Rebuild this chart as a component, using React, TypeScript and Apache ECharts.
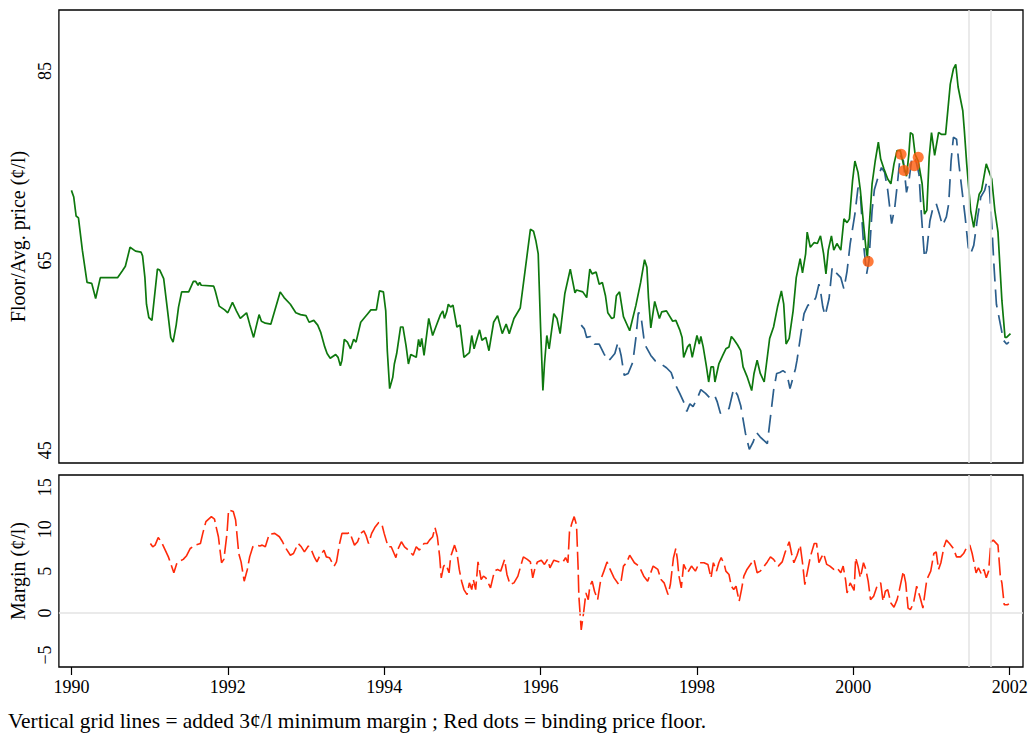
import React, { useEffect, useRef } from "react";
import * as echarts from "echarts";

// Floor price (c/l), [year, value]
const floorPrice: [number, number][] = [
  [1990.0, 72.4], [1990.03, 71.7], [1990.06, 69.7], [1990.09, 69.5], [1990.14, 66.1], [1990.2, 62.7],
  [1990.26, 62.6], [1990.31, 61.0], [1990.37, 63.2], [1990.45, 63.2], [1990.59, 63.2], [1990.65, 63.9],
  [1990.69, 64.4], [1990.75, 66.4], [1990.82, 66.0], [1990.89, 65.9], [1990.91, 65.5], [1990.94, 63.2],
  [1990.96, 60.4], [1990.99, 59.0], [1991.03, 58.7], [1991.1, 64.1], [1991.13, 64.0], [1991.18, 63.1],
  [1991.23, 59.7], [1991.27, 56.9], [1991.3, 56.4], [1991.34, 58.2], [1991.37, 60.1], [1991.41, 61.7],
  [1991.5, 61.7], [1991.56, 62.8], [1991.59, 62.8], [1991.62, 62.4], [1991.64, 62.7], [1991.66, 62.4],
  [1991.82, 62.3], [1991.84, 61.8], [1991.89, 60.2], [1991.96, 59.8], [1992.0, 59.5], [1992.06, 60.6],
  [1992.11, 59.7], [1992.16, 58.9], [1992.24, 59.5], [1992.28, 58.3], [1992.33, 56.9], [1992.4, 59.3],
  [1992.43, 58.6], [1992.48, 58.4], [1992.55, 58.3], [1992.67, 61.7], [1992.72, 61.1], [1992.8, 60.4],
  [1992.87, 59.5], [1992.93, 59.3], [1993.0, 59.2], [1993.04, 58.5], [1993.1, 58.7], [1993.15, 58.2],
  [1993.19, 57.4], [1993.24, 55.9], [1993.27, 55.2], [1993.31, 54.7], [1993.38, 55.1], [1993.41, 54.8],
  [1993.44, 53.9], [1993.46, 54.5], [1993.49, 56.7], [1993.53, 56.4], [1993.57, 55.7], [1993.61, 56.7],
  [1993.64, 56.4], [1993.7, 58.5], [1993.75, 59.0], [1993.79, 59.4], [1993.83, 59.8], [1993.9, 59.8],
  [1993.94, 61.8], [1993.99, 61.7], [1994.02, 59.7], [1994.04, 55.5], [1994.07, 51.5], [1994.11, 52.7],
  [1994.13, 54.1], [1994.16, 55.2], [1994.21, 58.0], [1994.24, 58.0], [1994.28, 56.0], [1994.31, 54.1],
  [1994.34, 55.1], [1994.41, 54.8], [1994.44, 56.7], [1994.46, 55.9], [1994.48, 56.8], [1994.51, 55.0],
  [1994.57, 58.9], [1994.62, 57.1], [1994.66, 58.0], [1994.72, 59.3], [1994.75, 59.7], [1994.77, 58.9],
  [1994.8, 59.6], [1994.82, 60.4], [1994.85, 60.1], [1994.88, 60.3], [1994.93, 58.0], [1994.97, 58.2],
  [1995.02, 54.8], [1995.09, 55.3], [1995.12, 57.1], [1995.15, 55.7], [1995.22, 57.7], [1995.25, 56.6],
  [1995.3, 56.9], [1995.34, 55.5], [1995.4, 58.5], [1995.45, 59.2], [1995.51, 57.3], [1995.56, 58.3],
  [1995.6, 57.3], [1995.66, 58.9], [1995.74, 60.0], [1995.8, 63.8], [1995.87, 68.3], [1995.91, 68.1],
  [1995.94, 67.1], [1995.97, 65.7], [1996.0, 58.0], [1996.03, 51.3], [1996.05, 54.1], [1996.08, 57.1],
  [1996.11, 55.7], [1996.17, 59.4], [1996.21, 58.9], [1996.25, 57.3], [1996.31, 61.5], [1996.38, 64.1],
  [1996.44, 61.6], [1996.46, 61.9], [1996.54, 61.7], [1996.59, 61.1], [1996.63, 64.1], [1996.66, 63.6],
  [1996.71, 63.8], [1996.75, 62.5], [1996.79, 62.7], [1996.83, 61.3], [1996.86, 59.5], [1996.91, 58.9],
  [1996.94, 59.0], [1996.97, 61.3], [1997.01, 61.7], [1997.06, 59.1], [1997.14, 57.6], [1997.22, 60.3],
  [1997.28, 62.7], [1997.33, 65.1], [1997.36, 64.3], [1997.38, 61.1], [1997.41, 57.9], [1997.46, 60.7],
  [1997.52, 58.9], [1997.55, 59.6], [1997.61, 59.7], [1997.69, 58.6], [1997.73, 58.7], [1997.78, 57.7],
  [1997.81, 56.9], [1997.83, 54.8], [1997.88, 55.9], [1997.91, 56.2], [1997.94, 54.8], [1998.0, 57.1],
  [1998.03, 56.2], [1998.05, 57.0], [1998.08, 55.9], [1998.12, 53.9], [1998.15, 52.2], [1998.18, 53.8],
  [1998.21, 53.8], [1998.23, 52.2], [1998.28, 54.1], [1998.33, 55.0], [1998.37, 55.7], [1998.41, 55.9],
  [1998.44, 57.0], [1998.47, 56.7], [1998.52, 56.1], [1998.56, 55.5], [1998.59, 53.8], [1998.64, 52.8],
  [1998.7, 51.3], [1998.73, 53.1], [1998.77, 54.5], [1998.81, 53.1], [1998.86, 52.2], [1998.93, 56.8],
  [1998.98, 58.0], [1999.03, 60.1], [1999.08, 61.8], [1999.11, 60.4], [1999.14, 56.2], [1999.18, 56.8],
  [1999.23, 59.7], [1999.27, 63.2], [1999.32, 65.2], [1999.35, 63.7], [1999.39, 65.7], [1999.41, 68.0],
  [1999.45, 66.4], [1999.5, 66.9], [1999.54, 66.8], [1999.58, 67.6], [1999.62, 65.7], [1999.65, 63.6],
  [1999.68, 66.1], [1999.72, 67.6], [1999.75, 66.1], [1999.79, 66.8], [1999.84, 66.1], [1999.88, 69.4],
  [1999.92, 69.0], [1999.95, 69.4], [1999.99, 73.4], [2000.02, 75.5], [2000.06, 74.3], [2000.09, 72.4],
  [2000.13, 68.9], [2000.16, 66.4], [2000.18, 65.3], [2000.2, 68.2], [2000.24, 73.1], [2000.28, 75.5],
  [2000.32, 77.5], [2000.35, 75.7], [2000.39, 74.7], [2000.44, 73.6], [2000.48, 73.1], [2000.52, 75.2],
  [2000.56, 76.6], [2000.6, 76.6], [2000.64, 75.2], [2000.68, 73.9], [2000.71, 76.2], [2000.73, 78.5],
  [2000.76, 78.3], [2000.79, 76.2], [2000.83, 75.5], [2000.88, 73.1], [2000.91, 69.9], [2000.94, 70.3],
  [2000.97, 75.9], [2001.0, 78.5], [2001.04, 76.1], [2001.09, 78.5], [2001.13, 78.3], [2001.18, 78.3],
  [2001.24, 83.6], [2001.28, 85.2], [2001.31, 85.7], [2001.34, 83.3], [2001.4, 80.8], [2001.42, 78.7],
  [2001.45, 75.2], [2001.5, 70.3], [2001.54, 68.5], [2001.58, 70.6], [2001.61, 72.0], [2001.64, 72.4],
  [2001.7, 75.2], [2001.77, 73.6], [2001.81, 70.3], [2001.85, 68.0], [2001.9, 60.8], [2001.94, 56.9],
  [2001.96, 56.9], [2002.01, 57.3],
];

// Average price (c/l), [year, value]
const avgPrice: [number, number][] = [
  [1996.52, 58.2], [1996.56, 57.8], [1996.59, 56.9], [1996.64, 57.0], [1996.69, 56.2], [1996.75, 56.2],
  [1996.81, 55.2], [1996.86, 54.4], [1996.89, 54.6], [1996.95, 55.2], [1996.99, 56.4], [1997.03, 55.0],
  [1997.07, 52.9], [1997.12, 53.1], [1997.18, 54.3], [1997.22, 56.9], [1997.25, 59.5], [1997.28, 59.4],
  [1997.32, 56.9], [1997.35, 55.9], [1997.41, 55.0], [1997.47, 54.4], [1997.54, 54.1], [1997.61, 53.7],
  [1997.67, 53.2], [1997.72, 52.0], [1997.78, 51.0], [1997.83, 50.1], [1997.87, 49.1], [1997.91, 49.9],
  [1997.95, 49.6], [1998.01, 50.6], [1998.05, 51.4], [1998.11, 51.0], [1998.18, 50.4], [1998.23, 50.7],
  [1998.26, 50.1], [1998.3, 48.9], [1998.37, 49.2], [1998.41, 49.4], [1998.47, 51.5], [1998.52, 50.8],
  [1998.56, 49.7], [1998.62, 46.8], [1998.67, 45.1], [1998.72, 45.9], [1998.76, 46.9], [1998.81, 46.4],
  [1998.9, 45.7], [1998.94, 48.5], [1998.98, 51.3], [1999.02, 53.1], [1999.06, 53.2], [1999.1, 53.4],
  [1999.15, 53.1], [1999.19, 51.5], [1999.26, 53.6], [1999.28, 54.5], [1999.33, 57.3], [1999.37, 59.4],
  [1999.42, 60.3], [1999.47, 60.4], [1999.52, 61.1], [1999.56, 62.5], [1999.58, 61.8], [1999.61, 60.1],
  [1999.64, 59.2], [1999.69, 61.0], [1999.73, 64.3], [1999.77, 63.8], [1999.84, 63.2], [1999.88, 62.0],
  [1999.92, 63.9], [1999.96, 66.8], [2000.02, 69.9], [2000.06, 72.7], [2000.09, 72.0], [2000.13, 66.8],
  [2000.17, 63.6], [2000.2, 65.0], [2000.24, 70.3], [2000.27, 72.5], [2000.32, 73.9], [2000.36, 74.8],
  [2000.4, 74.3], [2000.44, 72.4], [2000.49, 68.9], [2000.53, 70.6], [2000.57, 73.6], [2000.6, 76.1],
  [2000.64, 75.5], [2000.68, 72.2], [2000.71, 73.3], [2000.75, 75.9], [2000.79, 75.9], [2000.84, 74.1],
  [2000.87, 69.9], [2000.91, 65.3], [2000.94, 66.1], [2000.98, 69.2], [2001.02, 70.6], [2001.06, 71.0],
  [2001.1, 69.9], [2001.14, 68.7], [2001.19, 69.6], [2001.22, 71.0], [2001.25, 75.5], [2001.28, 78.0],
  [2001.32, 77.8], [2001.35, 75.2], [2001.39, 72.4], [2001.43, 69.6], [2001.47, 66.4], [2001.5, 65.7],
  [2001.54, 66.6], [2001.59, 69.6], [2001.63, 71.7], [2001.68, 72.4], [2001.71, 73.4], [2001.74, 72.7],
  [2001.77, 68.9], [2001.8, 64.3], [2001.83, 60.4], [2001.88, 58.3], [2001.92, 56.6], [2001.96, 56.2],
  [2001.99, 56.4],
];

// Binding price floor (red dots)
const bindingFloor: [number, number][] = [
  [2000.19, 64.9], [2000.61, 76.2], [2000.65, 74.5], [2000.78, 75.0], [2000.83, 75.9],
];

// Margin (c/l), [year, value]
const margin: [number, number][] = [
  [1991.01, 8.3], [1991.04, 7.9], [1991.07, 8.1], [1991.11, 9.0], [1991.15, 8.5], [1991.2, 7.5],
  [1991.24, 6.7], [1991.31, 4.8], [1991.35, 6.0], [1991.43, 6.4], [1991.47, 6.8], [1991.52, 7.7],
  [1991.58, 8.1], [1991.65, 8.3], [1991.68, 9.5], [1991.72, 10.9], [1991.79, 11.5], [1991.83, 11.2],
  [1991.85, 10.3], [1991.88, 9.1], [1991.92, 6.0], [1991.95, 6.4], [1991.99, 9.5], [1992.01, 12.3],
  [1992.07, 12.1], [1992.1, 11.1], [1992.12, 9.1], [1992.14, 7.1], [1992.17, 6.1], [1992.21, 3.8],
  [1992.25, 5.2], [1992.28, 6.7], [1992.32, 7.9], [1992.36, 8.1], [1992.41, 8.0], [1992.44, 8.1],
  [1992.48, 7.9], [1992.53, 9.4], [1992.6, 9.5], [1992.66, 9.1], [1992.7, 8.5], [1992.73, 7.9],
  [1992.8, 6.9], [1992.84, 7.1], [1992.9, 8.3], [1992.94, 7.9], [1992.98, 7.3], [1993.03, 8.0],
  [1993.07, 7.5], [1993.11, 6.6], [1993.14, 6.1], [1993.17, 6.7], [1993.23, 7.5], [1993.26, 6.7],
  [1993.3, 6.6], [1993.36, 5.6], [1993.39, 6.1], [1993.43, 8.3], [1993.46, 9.5], [1993.53, 9.5],
  [1993.56, 9.6], [1993.62, 8.1], [1993.66, 8.5], [1993.7, 9.5], [1993.74, 9.8], [1993.77, 9.2],
  [1993.8, 8.3], [1993.84, 9.5], [1993.88, 10.2], [1993.93, 10.8], [1993.97, 10.6], [1994.0, 9.5],
  [1994.05, 7.9], [1994.09, 7.9], [1994.15, 6.6], [1994.17, 7.5], [1994.22, 8.5], [1994.26, 7.9],
  [1994.31, 7.5], [1994.37, 6.9], [1994.41, 7.9], [1994.45, 7.5], [1994.51, 8.3], [1994.55, 8.3],
  [1994.58, 8.7], [1994.62, 9.1], [1994.65, 10.2], [1994.68, 9.1], [1994.71, 6.7], [1994.73, 4.2],
  [1994.76, 5.6], [1994.79, 5.8], [1994.83, 4.8], [1994.85, 6.7], [1994.9, 8.1], [1994.93, 7.2],
  [1994.96, 5.2], [1994.99, 3.8], [1995.02, 2.8], [1995.06, 2.2], [1995.09, 3.6], [1995.12, 2.8],
  [1995.14, 4.0], [1995.17, 2.8], [1995.2, 6.1], [1995.24, 4.0], [1995.27, 4.4], [1995.3, 4.2],
  [1995.36, 3.0], [1995.41, 5.0], [1995.45, 5.2], [1995.49, 5.0], [1995.54, 6.4], [1995.57, 4.6],
  [1995.61, 3.4], [1995.66, 3.6], [1995.71, 4.4], [1995.74, 5.4], [1995.78, 6.7], [1995.83, 6.4],
  [1995.87, 6.1], [1995.9, 4.2], [1995.93, 5.4], [1995.96, 6.1], [1996.01, 6.3], [1996.05, 5.8],
  [1996.09, 6.4], [1996.12, 5.4], [1996.17, 6.3], [1996.24, 6.1], [1996.28, 6.0], [1996.32, 6.6],
  [1996.35, 6.0], [1996.37, 9.7], [1996.4, 10.7], [1996.43, 11.5], [1996.46, 10.5], [1996.48, 5.5],
  [1996.49, 2.0], [1996.52, -2.0], [1996.55, 0.0], [1996.58, 2.4], [1996.61, 1.6], [1996.63, 3.2],
  [1996.66, 3.8], [1996.69, 2.6], [1996.73, 1.6], [1996.77, 4.0], [1996.81, 5.0], [1996.85, 6.1],
  [1996.89, 5.2], [1996.94, 4.2], [1997.0, 3.4], [1997.03, 3.8], [1997.06, 5.6], [1997.1, 6.0],
  [1997.14, 6.9], [1997.2, 6.0], [1997.26, 5.6], [1997.32, 4.4], [1997.37, 3.8], [1997.44, 5.6],
  [1997.5, 5.2], [1997.54, 4.0], [1997.58, 3.6], [1997.63, 2.2], [1997.66, 3.4], [1997.7, 6.6],
  [1997.73, 7.7], [1997.75, 6.4], [1997.77, 4.4], [1997.8, 3.0], [1997.83, 5.8], [1997.88, 4.8],
  [1997.93, 5.6], [1997.98, 5.0], [1998.03, 6.0], [1998.09, 6.0], [1998.14, 5.8], [1998.18, 4.2],
  [1998.21, 6.0], [1998.25, 5.0], [1998.28, 6.0], [1998.31, 6.6], [1998.35, 5.8], [1998.37, 5.0],
  [1998.41, 4.6], [1998.44, 3.2], [1998.47, 2.8], [1998.5, 3.2], [1998.54, 1.4], [1998.57, 2.8],
  [1998.6, 4.4], [1998.64, 5.2], [1998.73, 6.4], [1998.77, 4.8], [1998.81, 5.0], [1998.86, 5.6],
  [1998.9, 6.1], [1998.94, 6.7], [1998.98, 6.4], [1999.04, 5.6], [1999.09, 6.1], [1999.13, 7.3],
  [1999.18, 8.5], [1999.21, 7.1], [1999.24, 6.0], [1999.28, 6.9], [1999.32, 8.1], [1999.35, 6.0],
  [1999.38, 3.4], [1999.41, 4.8], [1999.45, 6.7], [1999.5, 8.3], [1999.53, 8.3], [1999.56, 6.0],
  [1999.59, 6.6], [1999.62, 7.1], [1999.66, 5.8], [1999.7, 5.6], [1999.75, 5.2], [1999.79, 5.4],
  [1999.84, 4.8], [1999.87, 5.6], [1999.9, 4.0], [1999.92, 2.4], [1999.96, 3.6], [2000.01, 2.7],
  [2000.03, 6.6], [2000.06, 5.6], [2000.09, 4.2], [2000.13, 6.0], [2000.16, 5.2], [2000.19, 3.8],
  [2000.22, 1.6], [2000.26, 2.0], [2000.31, 3.4], [2000.35, 3.6], [2000.38, 1.4], [2000.41, 2.6],
  [2000.44, 2.8], [2000.48, 1.2], [2000.52, 0.7], [2000.56, 1.6], [2000.59, 2.8], [2000.64, 5.0],
  [2000.67, 3.6], [2000.7, 0.6], [2000.73, 0.4], [2000.77, 1.2], [2000.81, 3.2], [2000.85, 2.0],
  [2000.89, 0.6], [2000.94, 4.0], [2000.99, 5.0], [2001.03, 7.1], [2001.06, 7.3], [2001.09, 5.2],
  [2001.12, 6.0], [2001.16, 7.9], [2001.19, 8.7], [2001.23, 8.3], [2001.28, 7.7], [2001.32, 6.7],
  [2001.37, 6.7], [2001.41, 7.1], [2001.46, 8.0], [2001.49, 8.1], [2001.52, 7.1], [2001.57, 4.8],
  [2001.6, 5.4], [2001.64, 4.6], [2001.67, 5.2], [2001.7, 4.2], [2001.73, 5.0], [2001.76, 8.5],
  [2001.79, 8.7], [2001.85, 8.1], [2001.88, 4.4], [2001.9, 3.6], [2001.93, 1.0], [2001.97, 1.0],
  [2001.99, 1.1],
];

// Dates at which the 3 c/l minimum margin was added
const minMarginDates: number[] = [2001.48, 2001.76];

const yearTicks: number[] = [1990, 1992, 1994, 1996, 1998, 2000, 2002];
const priceTicks: number[] = [45, 65, 85];
const marginTicks: number[] = [-5, 0, 5, 10, 15];

const FONT = "'Liberation Serif', 'Times New Roman', serif";

export default function App() {
  const ref = useRef<HTMLDivElement>(null);

  useEffect(() => {
    if (!ref.current) return;
    const chart = echarts.init(ref.current, null, { renderer: "svg" });

    const xMin = 1989.84;
    const xMax = 2002.17;

    const vLines = minMarginDates.map((d) => ({ xAxis: d }));

    const option: any = {
      animation: false,
      backgroundColor: "#ffffff",
      textStyle: { fontFamily: FONT, color: "#000" },
      grid: [
        {
          left: 57, top: 10, width: 966, height: 453,
          show: true, borderColor: "#000", borderWidth: 1.3, backgroundColor: "transparent",
        },
        {
          left: 57, top: 475, width: 966, height: 192,
          show: true, borderColor: "#000", borderWidth: 1.3, backgroundColor: "transparent",
        },
      ],
      xAxis: [
        {
          type: "value", gridIndex: 0, min: xMin, max: xMax,
          axisLine: { show: false, onZero: false }, axisTick: { show: false },
          axisLabel: { show: false }, splitLine: { show: false },
        },
        {
          type: "value", gridIndex: 1, min: xMin, max: xMax, position: "bottom",
          axisLine: { show: false, onZero: false },
          axisTick: {
            show: true, inside: false, length: 8, customValues: yearTicks,
            lineStyle: { color: "#000", width: 1.2 },
          },
          axisLabel: {
            show: true, customValues: yearTicks, margin: 11,
            fontFamily: FONT, fontSize: 18, color: "#000",
            formatter: (v: number) => String(Math.round(v)),
          },
          splitLine: { show: false },
        },
      ],
      yAxis: [
        {
          type: "value", gridIndex: 0, min: 43.66, max: 91.42,
          name: "Floor/Avg. price (¢/l)", nameLocation: "middle", nameGap: 27, nameRotate: 90,
          nameTextStyle: { fontFamily: FONT, fontSize: 20, color: "#000" },
          axisLine: { show: false, onZero: false }, axisTick: { show: false }, splitLine: { show: false },
          axisLabel: {
            show: true, customValues: priceTicks, rotate: 90, margin: 5,
            fontFamily: FONT, fontSize: 18, color: "#000",
          },
        },
        {
          type: "value", gridIndex: 1, min: -6.43, max: 16.46,
          name: "Margin (¢/l)", nameLocation: "middle", nameGap: 27, nameRotate: 90,
          nameTextStyle: { fontFamily: FONT, fontSize: 20, color: "#000" },
          axisLine: { show: false, onZero: false }, axisTick: { show: false }, splitLine: { show: false },
          axisLabel: {
            show: true, customValues: marginTicks, rotate: 90, margin: 5,
            fontFamily: FONT, fontSize: 18, color: "#000",
            formatter: (v: number) => (v < 0 ? "\u2212" + Math.abs(v) : String(v)),
          },
        },
      ],
      series: [
        {
          name: "gridTop", type: "line", xAxisIndex: 0, yAxisIndex: 0, data: [], z: 0,
          markLine: {
            silent: true, symbol: ["none", "none"], label: { show: false },
            lineStyle: { color: "#e3e3e3", width: 1.5, type: "solid" },
            data: vLines,
          },
        },
        {
          name: "gridBottom", type: "line", xAxisIndex: 1, yAxisIndex: 1, data: [], z: 0,
          markLine: {
            silent: true, symbol: ["none", "none"], label: { show: false },
            lineStyle: { color: "#e3e3e3", width: 1.5, type: "solid" },
            data: [...vLines, { yAxis: 0 }],
          },
        },
        {
          name: "Floor", type: "line", xAxisIndex: 0, yAxisIndex: 0, data: floorPrice,
          showSymbol: false, z: 3,
          lineStyle: { color: "#0e780e", width: 1.7 },
        },
        {
          name: "Avg. price", type: "line", xAxisIndex: 0, yAxisIndex: 0, data: avgPrice,
          showSymbol: false, z: 2,
          lineStyle: { color: "#2b5e8c", width: 1.7, type: [18, 8] },
        },
        {
          name: "Binding floor", type: "scatter", xAxisIndex: 0, yAxisIndex: 0, data: bindingFloor,
          symbolSize: 11, z: 4,
          itemStyle: { color: "#ff5a0a" },
        },
        {
          name: "Margin", type: "line", xAxisIndex: 1, yAxisIndex: 1, data: margin,
          showSymbol: false, z: 3,
          lineStyle: { color: "#ff2a0a", width: 1.6, type: [18, 5] },
        },
      ],
      graphic: [
        {
          type: "text", left: 8, top: 710,
          style: {
            text: "Vertical grid lines = added 3¢/l minimum margin ; Red dots = binding price floor.",
            fontFamily: FONT, fontSize: 21.4, fill: "#000",
          },
        },
      ],
    };

    chart.setOption(option);
    return () => chart.dispose();
  }, []);

  return (
    <div
      ref={ref}
      style={{ position: "fixed", left: 0, top: 0, width: 1034, height: 738, background: "#fff" }}
    />
  );
}
